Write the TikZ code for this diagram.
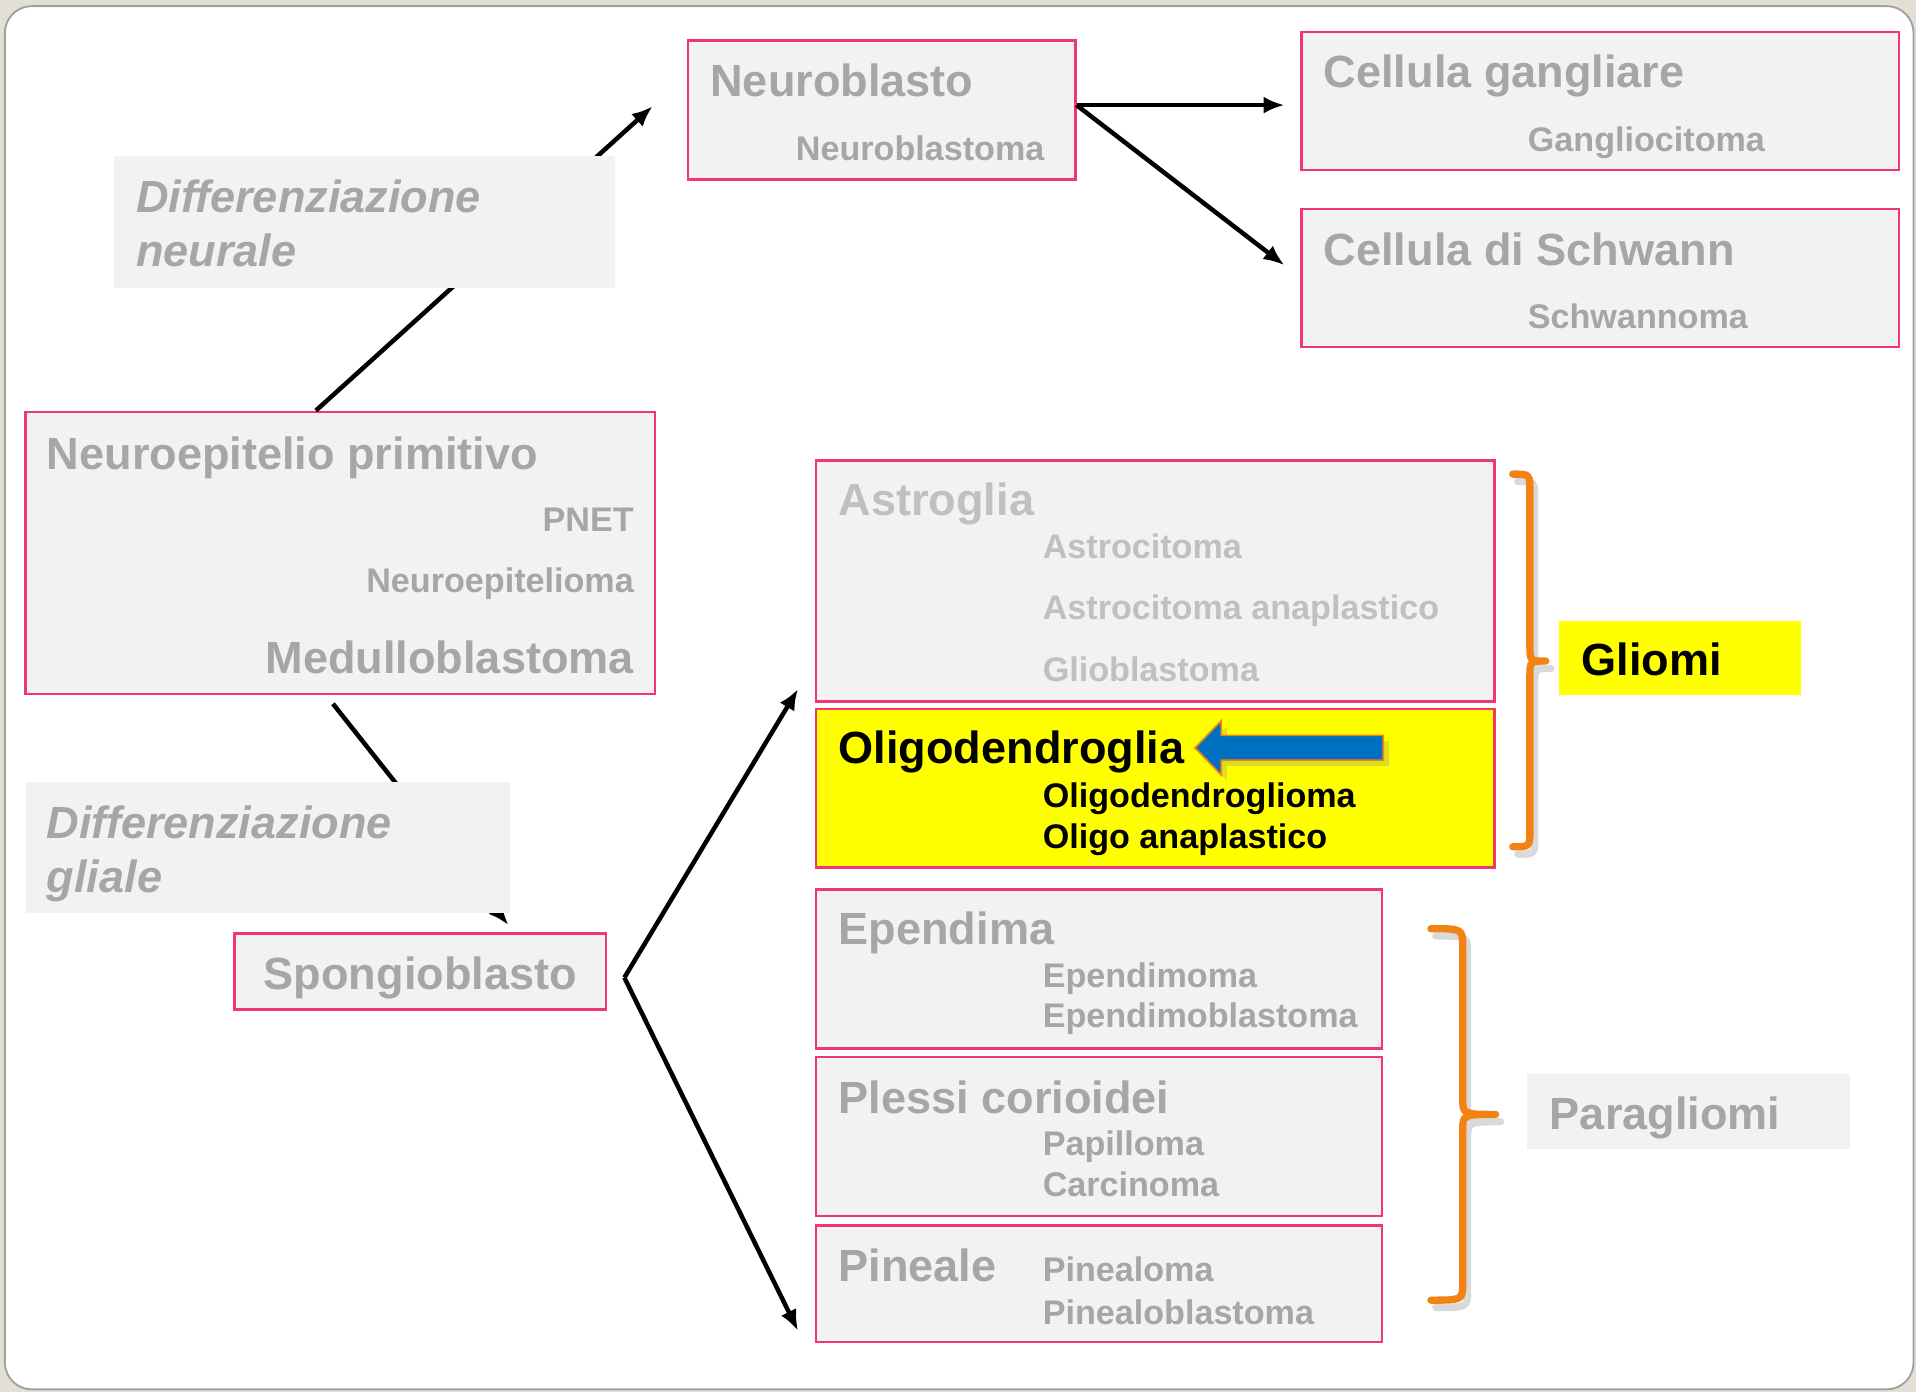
\documentclass[tikz,border=0pt]{standalone}
\usepackage{fontspec}
\setmainfont{Liberation Sans}
\usepackage{xcolor}
\usepackage{tikz}
\usetikzlibrary{shapes,arrows.meta,calc,fit,shadows}

\definecolor{sfondo}{RGB}{228,223,213}
\definecolor{cornice}{RGB}{160,160,160}
\definecolor{rosa}{RGB}{240,55,110}
\definecolor{boxgrey}{RGB}{242,242,242}
\definecolor{testo}{RGB}{166,166,166}
\definecolor{chiaro}{RGB}{192,192,192}
\definecolor{giallo}{RGB}{255,255,0}
\definecolor{arancio}{RGB}{242,130,20}
\definecolor{blu}{RGB}{0,112,192}

\begin{document}
\begin{tikzpicture}[x=0.02cm,y=-0.02cm]
\tikzstyle{box} = [draw=rosa,fill=boxgrey,line width=1.1pt,inner sep=0pt];
\tikzstyle{tag} = [fill=boxgrey,inner sep=0pt];
\tikzstyle{titolo} = [anchor=base west,inner sep=0pt,text=testo,font=\fontsize{21}{25}\selectfont\bfseries];
\tikzstyle{sotto} = [anchor=base west,inner sep=0pt,text=testo,font=\fontsize{15.9}{19}\selectfont\bfseries];
\tikzstyle{corsivo} = [titolo,font=\fontsize{21}{25}\selectfont\bfseries\itshape];
\tikzstyle{freccia} = [line width=2.1pt,-{Latex[length=0.34cm,width=0.28cm]}];
\tikzstyle{graffa} = [draw=arancio,line width=3.4pt,line cap=round,line join=round];

\useasboundingbox (0,0) rectangle (1568,1139);
\fill[sfondo] (0,0) rectangle (1568,1139);
\draw[fill=white,draw=cornice,line width=0.85pt,rounded corners=0.44cm] (4,5) rectangle (1566,1137);

% cell boxes
\node[box,fit={(563,33) (880,147)}] (neuroblasto) {};
\node[box,fit={(1065,26) (1554,139)}] (gangliare) {};
\node[box,fit={(1065,171) (1554,284)}] (schwann) {};
\node[box,fit={(21,337) (536,568)}] (neuroepit) {};
\node[box,fit={(192,764) (496,826)}] (spongio) {};
\node[box,fit={(668,377) (1223,574)}] (astro) {};
\node[box,fill=giallo,fit={(668,580) (1223,710)}] (oligo) {};
\node[box,fit={(668,728) (1131,858)}] (ependima) {};
\node[box,fit={(668,865) (1131,995)}] (plessi) {};
\node[box,fit={(668,1003) (1131,1098)}] (pineale) {};

% arrows
\draw[freccia] ($(neuroepit.north)+(-20,0)$) -- ($(neuroblasto.west)+(-28,-3)$);
\draw[freccia] ($(neuroblasto.east)+(0,-4)$) -- ($(gangliare.west)+(-13,3.5)$);
\draw[freccia] ($(neuroblasto.east)+(0,-4)$) -- ($(schwann.west)+(-13,-10.5)$);
\draw[freccia] ($(neuroepit.south)+(-6,7)$) -- ($(spongio.north)+(72,-6)$);
\draw[freccia] ($(spongio.east)+(14,5)$) -- ($(astro.south west)+(-14,-11)$);
\draw[freccia] ($(spongio.east)+(14,5)$) -- ($(pineale.south west)+(-14,-10)$);

\node[tag,fit={(93,128) (503,236)}] (diffNeur) {};
\node[tag,fit={(21,640) (417,747)}] (diffGlia) {};
\node[tag,fill=giallo,fit={(1276,508) (1474,569)}] (gliomi) {};
\node[tag,fit={(1250,879) (1514,940)}] (paragliomi) {};

\node[corsivo] (tDiffNeur) at (111,174) {Differenziazione};
\node[corsivo] (tDiffNeur2) at (111,218) {neurale};
\node[corsivo] (tDiffGlia) at (38,686) {Differenziazione};
\node[corsivo] (tDiffGlia2) at (38,730) {gliale};

\node[titolo] (tNeuroblasto) at (581,79) {Neuroblasto};
\node[sotto] (sNeuroblastoma) at (651,131) {Neuroblastoma};
\node[titolo] (tGangliare) at (1083,72) {Cellula gangliare};
\node[sotto] (sGangliocitoma) at (1250,124) {Gangliocitoma};
\node[titolo] (tSchwann) at (1083,217) {Cellula di Schwann};
\node[sotto] (sSchwannoma) at (1250,269) {Schwannoma};

\node[titolo] (tNeuroepit) at (38,384) {Neuroepitelio primitivo};
\node[sotto,anchor=base east] (sPnet) at (519,435) {PNET};
\node[sotto,anchor=base east] (sNeuroepit) at (519,485) {Neuroepitelioma};
\node[titolo,anchor=base east] (tMedullo) at (519,551) {Medulloblastoma};

\node[titolo,anchor=base] (tSpongio) at (344,810) {Spongioblasto};

\node[titolo,text=chiaro] (tAstro) at (686,422) {Astroglia};
\node[sotto,text=chiaro] (sAstro1) at (853,457) {Astrocitoma};
\node[sotto,text=chiaro] (sAstro2) at (853,507) {Astrocitoma anaplastico};
\node[sotto,text=chiaro] (sAstro3) at (853,558) {Glioblastoma};

\node[titolo,text=black] (tOligo) at (686,625) {Oligodendroglia};
\node[sotto,text=black] (sOligo1) at (853,661) {Oligodendroglioma};
\node[sotto,text=black] (sOligo2) at (853,694) {Oligo anaplastico};
\node[single arrow,shape border rotate=180,anchor=tip,fill=blu,draw=arancio,line width=0.8pt,
  minimum height=3.08cm,text height=0.19cm,text depth=0.19cm,single arrow head extend=0.24cm,
  single arrow tip angle=92,single arrow head indent=0pt,inner sep=0pt,
  drop shadow={opacity=0.25}] (puntatore) at (977,612) {};

\node[titolo] (tEpendima) at (686,773) {Ependima};
\node[sotto] (sEpend1) at (853,808) {Ependimoma};
\node[sotto] (sEpend2) at (853,841) {Ependimoblastoma};
\node[titolo] (tPlessi) at (686,911) {Plessi corioidei};
\node[sotto] (sPlessi1) at (853,946) {Papilloma};
\node[sotto] (sPlessi2) at (853,979) {Carcinoma};
\node[titolo] (tPineale) at (686,1049) {Pineale};
\node[sotto] (sPineale1) at (853,1049) {Pinealoma};
\node[sotto] (sPineale2) at (853,1084) {Pinealoblastoma};

\node[titolo,text=black] (tGliomi) at (1294,553) {Gliomi};
\node[titolo] (tParagliomi) at (1268,924) {Paragliomi};

% braces
\draw[graffa,draw=black,opacity=0.15,shift={(4,6)}] (1238,388) .. controls (1252,388) .. (1252,402) -- (1252,528) .. controls (1252,541) .. (1265,541) .. controls (1252,541) .. (1252,554) -- (1252,679) .. controls (1252,693) .. (1238,693);
\draw[graffa] (1238,388) .. controls (1252,388) .. (1252,402) -- (1252,528) .. controls (1252,541) .. (1265,541) .. controls (1252,541) .. (1252,554) -- (1252,679) .. controls (1252,693) .. (1238,693);
\draw[graffa,draw=black,opacity=0.15,shift={(4,6)}] (1171,760) .. controls (1197,760) .. (1197,775) -- (1197,898) .. controls (1197,912) .. (1224,912) .. controls (1197,912) .. (1197,926) -- (1197,1050) .. controls (1197,1064) .. (1171,1064);
\draw[graffa] (1171,760) .. controls (1197,760) .. (1197,775) -- (1197,898) .. controls (1197,912) .. (1224,912) .. controls (1197,912) .. (1197,926) -- (1197,1050) .. controls (1197,1064) .. (1171,1064);

\end{tikzpicture}
\end{document}
